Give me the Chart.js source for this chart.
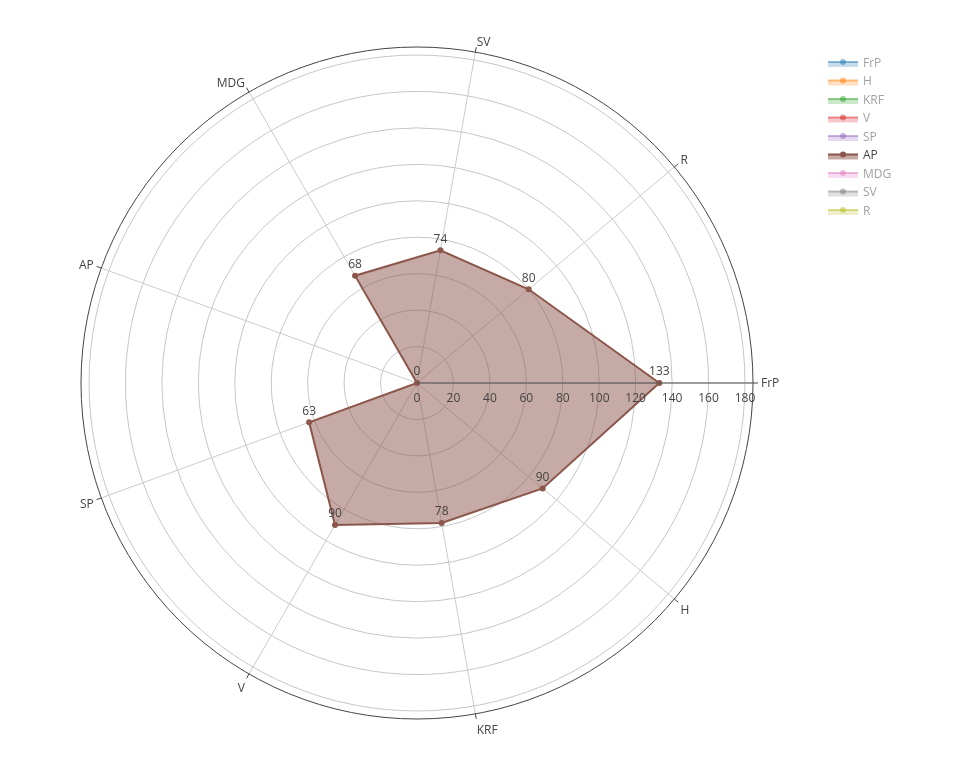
<!DOCTYPE html>
<html>
<head>
<meta charset="utf-8">
<script src="https://cdn.jsdelivr.net/npm/chart.js@4/dist/chart.umd.min.js"></script>
<style>
html,body{margin:0;padding:0;background:#fff;}
#wrap{width:960px;height:768px;position:relative;}
</style>
</head>
<body>
<div id="wrap"><canvas id="c" width="960" height="768"></canvas></div>
<script>
// ---- data ----
const categories = ['FrP', 'H', 'KRF', 'V', 'SP', 'AP', 'MDG', 'SV', 'R'];
const apValues = [133, 90, 78, 90, 63, 0, 68, 74, 80];
const radialTicks = [0, 20, 40, 60, 80, 100, 120, 140, 160, 180];
const radialMax = 184.4;
const legendNames = ['FrP', 'H', 'KRF', 'V', 'SP', 'AP', 'MDG', 'SV', 'R'];
const legendColors = ['#1f77b4', '#ff7f0e', '#2ca02c', '#d62728', '#9467bd', '#8c564b', '#e377c2', '#7f7f7f', '#bcbd22'];
const visibleSeries = 'AP';

const FONT = '12px "Open Sans", "DejaVu Sans", sans-serif';
const TEXT = '#444';

function hexToRgba(hex, a) {
  const n = parseInt(hex.slice(1), 16);
  return 'rgba(' + ((n >> 16) & 255) + ',' + ((n >> 8) & 255) + ',' + (n & 255) + ',' + a + ')';
}

const decorPlugin = {
  id: 'decor',
  afterDatasetsDraw(chart) {
    const ctx = chart.ctx;
    const s = chart.scales.r;
    const cx = s.xCenter, cy = s.yCenter;
    const R = s.getDistanceFromCenterForValue(radialMax);
    ctx.save();
    // outer frame circle
    ctx.strokeStyle = '#444';
    ctx.lineWidth = 1;
    ctx.beginPath();
    ctx.arc(cx, cy, R, 0, Math.PI * 2);
    ctx.stroke();
    // radial axis line along first category
    const end = s.getPointPosition(0, R);
    ctx.strokeStyle = '#555';
    ctx.beginPath();
    ctx.moveTo(cx, cy);
    ctx.lineTo(end.x, end.y);
    ctx.stroke();
    // radial tick labels
    ctx.font = FONT;
    ctx.fillStyle = TEXT;
    ctx.textAlign = 'center';
    ctx.textBaseline = 'middle';
    radialTicks.forEach(v => {
      const p = s.getPointPosition(0, s.getDistanceFromCenterForValue(v));
      ctx.fillText(String(v), p.x, p.y + 16);
    });
    // angular ticks and labels
    categories.forEach((lab, i) => {
      const p1 = s.getPointPosition(i, R);
      const p2 = s.getPointPosition(i, R + 5);
      ctx.strokeStyle = '#444';
      ctx.beginPath();
      ctx.moveTo(p1.x, p1.y);
      ctx.lineTo(p2.x, p2.y);
      ctx.stroke();
      const p = s.getPointPosition(i, R + 8);
      const c = (p.x - cx) / (R + 8);
      const sn = -(p.y - cy) / (R + 8);
      ctx.textAlign = c > 0.1 ? 'left' : (c < -0.1 ? 'right' : 'center');
      ctx.textBaseline = 'middle';
      const dy = -sn * (sn > 0 ? 3 : 8) + 1;
      ctx.fillText(lab, p.x, p.y + dy);
    });
    // data value labels
    const meta = chart.getDatasetMeta(0);
    ctx.textAlign = 'center';
    ctx.textBaseline = 'middle';
    meta.data.forEach((pt, i) => {
      ctx.fillText(String(chart.data.datasets[0].data[i]), pt.x, pt.y - 11);
    });
    // legend
    legendNames.forEach((name, i) => {
      const y = 62 + i * 18.5;
      const col = legendColors[i];
      ctx.globalAlpha = name === visibleSeries ? 1 : 0.5;
      ctx.fillStyle = hexToRgba(col, 0.5);
      ctx.fillRect(828, y, 30, 5);
      ctx.strokeStyle = col;
      ctx.lineWidth = 2;
      ctx.beginPath();
      ctx.moveTo(828, y);
      ctx.lineTo(858, y);
      ctx.stroke();
      ctx.fillStyle = col;
      ctx.beginPath();
      ctx.arc(843, y, 3, 0, Math.PI * 2);
      ctx.fill();
      ctx.fillStyle = TEXT;
      ctx.textAlign = 'left';
      ctx.textBaseline = 'middle';
      ctx.font = FONT;
      ctx.fillText(name, 863, y + 1.5);
    });
    ctx.globalAlpha = 1;
    ctx.restore();
  }
};

new Chart(document.getElementById('c'), {
  type: 'radar',
  data: {
    labels: categories,
    datasets: [{
      label: visibleSeries,
      data: apValues,
      borderColor: '#8c564b',
      backgroundColor: 'rgba(140,86,75,0.5)',
      borderWidth: 2,
      pointRadius: 3,
      pointBackgroundColor: '#8c564b',
      pointBorderColor: '#8c564b',
      pointBorderWidth: 0,
      fill: true,
      tension: 0
    }]
  },
  options: {
    responsive: false,
    animation: false,
    devicePixelRatio: 1,
    layout: { padding: { left: 81, right: 207, top: 47, bottom: 49 } },
    plugins: { legend: { display: false }, tooltip: { enabled: false } },
    scales: {
      r: {
        min: 0,
        max: radialMax,
        startAngle: 90,
        ticks: { display: false, stepSize: 20, includeBounds: false },
        grid: { circular: true, color: '#c6c6c6', lineWidth: 1 },
        angleLines: { display: true, color: '#cbcbcb', lineWidth: 1 },
        pointLabels: { display: false }
      }
    }
  },
  plugins: [decorPlugin]
});
</script>
</body>
</html>
